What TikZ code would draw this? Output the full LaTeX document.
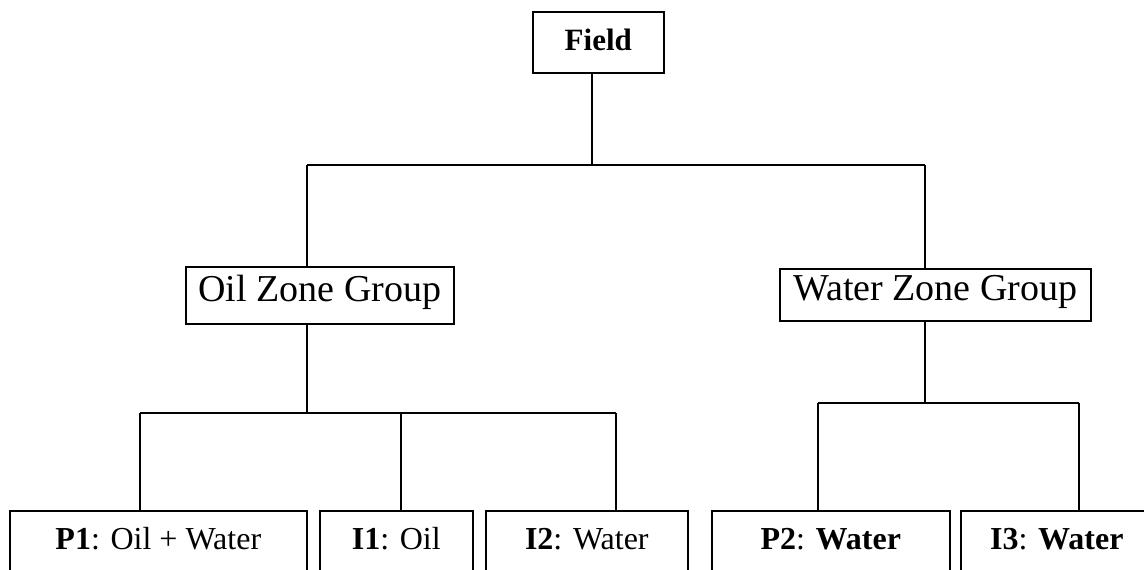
\documentclass[tikz,border=0pt]{standalone}
\usepackage{fontspec}
\setmainfont{Liberation Serif}
\newcommand{\wellTag}[1]{\textbf{#1}}

\begin{document}
\begin{tikzpicture}[x=1pt,y=-1pt,line width=1.6pt,
  box/.style={draw, inner sep=0pt, anchor=north west},
  topfont/.style={font=\fontsize{31}{34}\selectfont\bfseries},
  zonefont/.style={font=\fontsize{38}{41}\selectfont},
  wellfont/.style={font=\fontsize{32}{35}\selectfont}]
\useasboundingbox (0,0) rectangle (1144,570);
\clip (0,0) rectangle (1144,570);
% top of the tree
\node[box, topfont, minimum width=131, text height=39, text depth=22] (field) at (532,11) {Field};
\node[box, zonefont, minimum width=268, text height=35, text depth=22] (oil) at (185,266) {Oil Zone Group};
\node[box, zonefont, minimum width=311, text height=32, text depth=20] (water) at (779,268) {Water Zone Group};
% wells
\node[box, wellfont, minimum width=297, text height=39, text depth=60] (p1) at (9,510) {\wellTag{P1}: Oil + Water};
\node[box, wellfont, minimum width=153, text height=39, text depth=60] (i1) at (319,510) {\wellTag{I1}: Oil};
\node[box, wellfont, minimum width=202, text height=39, text depth=60] (i2) at (485,510) {\wellTag{I2}: Water};
\node[box, wellfont, minimum width=238, text height=39, text depth=60] (p2) at (711,510) {\wellTag{P2}: \textbf{Water}};
\node[box, wellfont, minimum width=210, text height=39, text depth=60] (i3) at (960,510) {\hspace*{-18pt}\wellTag{I3}: \textbf{Water}};
% junctions
\coordinate (fieldbus) at (592,165);
\coordinate (oiltop) at (307,165);
\coordinate (watertop) at (925,165);
\coordinate (oilbus) at (307,413);
\coordinate (oilA) at (140,413);
\coordinate (oilB) at (401,413);
\coordinate (oilC) at (616,413);
\coordinate (waterbus) at (925,403);
\coordinate (waterA) at (818,403);
\coordinate (waterB) at (1079,403);
% connectors
\draw (field.south -| fieldbus) -- (fieldbus);
\draw (oiltop) -- (watertop);
\draw (oiltop) -- (oiltop |- oil.north);
\draw (watertop) -- (watertop |- water.north);
\draw (oilbus |- oil.south) -- (oilbus);
\draw (oilA) -- (oilC);
\draw (oilA) -- (oilA |- p1.north);
\draw (oilB) -- (oilB |- i1.north);
\draw (oilC) -- (oilC |- i2.north);
\draw (waterbus |- water.south) -- (waterbus);
\draw (waterA) -- (waterB);
\draw (waterA) -- (waterA |- p2.north);
\draw (waterB) -- (waterB |- i3.north);
\end{tikzpicture}
\end{document}
